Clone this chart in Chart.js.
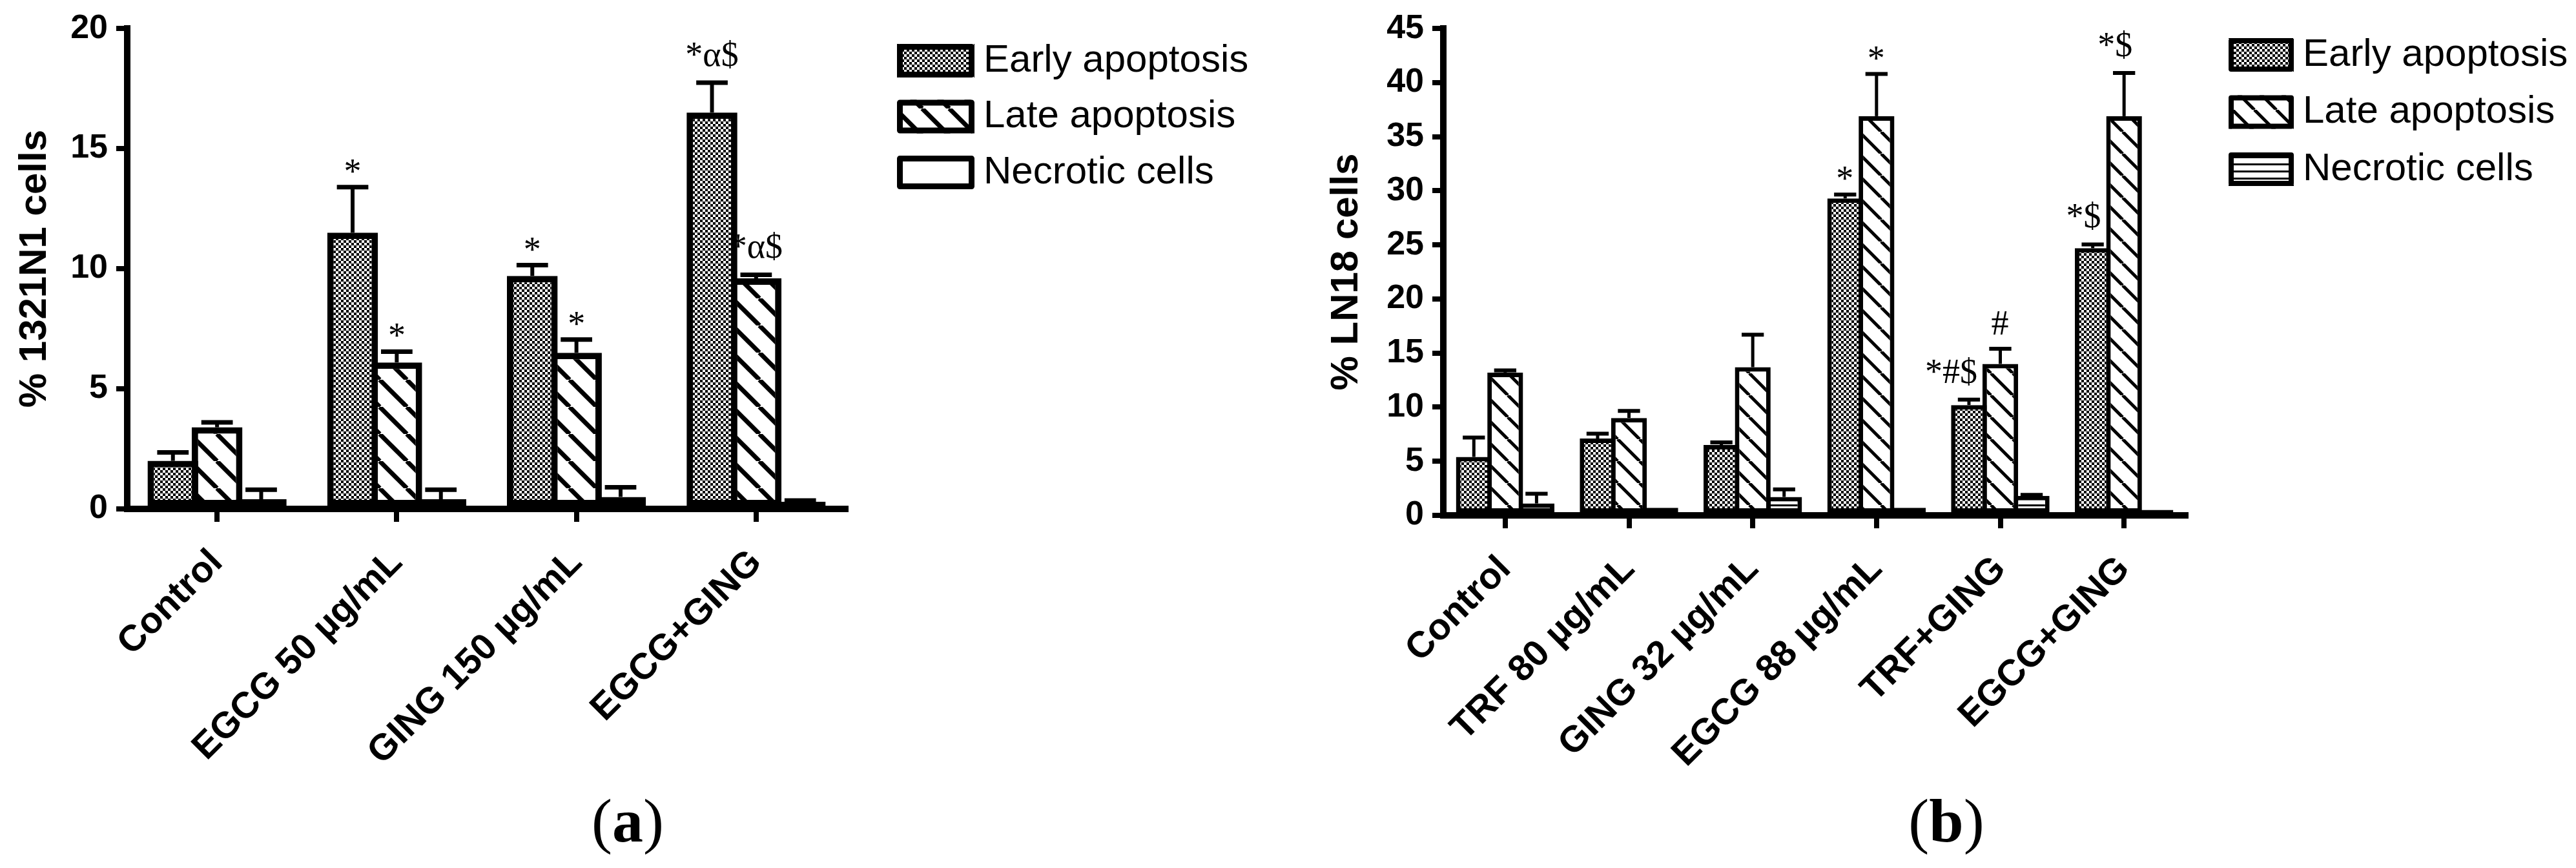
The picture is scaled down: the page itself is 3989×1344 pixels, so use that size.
<!DOCTYPE html>
<html>
<head>
<meta charset="utf-8">
<script src="https://cdn.jsdelivr.net/npm/chart.js@4.4.1/dist/chart.umd.min.js"></script>
<style>
  body { margin: 0; background: #fff; }
  #page { position: relative; width: 3989px; height: 1344px; overflow: hidden; background: #fff; }
  canvas { position: absolute; top: 0; }
  .panel { position: absolute; top: 1223px; width: 400px; text-align: center; font: 96px/96px "Liberation Serif", serif; color: #000; }
</style>
</head>
<body>
<div id="page">
  <canvas id="chartA" width="1995" height="1344" style="left:0"></canvas>
  <canvas id="chartB" width="1994" height="1344" style="left:1995px"></canvas>
  <div class="panel" style="left:772px">(<b>a</b>)</div>
  <div class="panel" style="left:2814px">(<b>b</b>)</div>
</div>
<script>
const seriesNames = ["Early apoptosis", "Late apoptosis", "Necrotic cells"];

// panel (a) - 1321N1 cells
const groupsA = ["Control", "EGCG 50 µg/mL", "GING 150 µg/mL", "EGCG+GING"];
const earlyA = [2.0, 11.5, 9.7, 16.5];
const earlyErrA = [0.35, 1.9, 0.45, 1.25];
const lateA = [3.4, 6.1, 6.5, 9.6];
const lateErrA = [0.2, 0.45, 0.55, 0.15];
const necroticA = [0.4, 0.4, 0.5, 0.3];
const necroticErrA = [0.4, 0.4, 0.4, 0.05];
const earlyMarksA = ["", "*", "*", "*α$"];
const lateMarksA = ["", "*", "*", "*α$"];
const yTicksA = { max: 20, step: 5 };

// panel (b) - LN18 cells
const groupsB = ["Control", "TRF 80 µg/mL", "GING 32 µg/mL", "EGCG 88 µg/mL", "TRF+GING", "EGCG+GING"];
const earlyB = [5.4, 7.1, 6.5, 29.3, 10.2, 24.7];
const earlyErrB = [1.8, 0.45, 0.25, 0.35, 0.5, 0.35];
const lateB = [13.2, 9.0, 13.7, 36.9, 14.0, 36.9];
const lateErrB = [0.2, 0.65, 3.0, 3.9, 1.4, 4.0];
const necroticB = [1.1, 0.7, 1.7, 0.7, 1.8, 0.5];
const necroticErrB = [0.9, 0, 0.7, 0, 0.1, 0];
const earlyMarksB = ["", "", "", "*", "*#$", "*$"];
const lateMarksB = ["", "", "", "*", "#", "*$"];
const yTicksB = { max: 45, step: 5 };

const SANS = "Liberation Sans";

function makePattern(kind, size, lw) {
  const c = document.createElement("canvas");
  c.width = size; c.height = size;
  const g = c.getContext("2d");
  g.fillStyle = "#fff";
  g.fillRect(0, 0, size, size);
  g.fillStyle = "#000";
  g.strokeStyle = "#000";
  g.lineWidth = lw;
  if (kind === "checker") {
    const h = size / 2;
    g.fillRect(0, 0, h, h);
    g.fillRect(h, h, h, h);
  } else if (kind === "diag") {
    for (const o of [-size, 0, size]) {
      g.beginPath(); g.moveTo(o, 0); g.lineTo(o + size, size); g.stroke();
    }
  } else if (kind === "hlines") {
    g.fillRect(0, 0, size, lw);
  }
  return g.createPattern(c, "repeat");
}

// error bars (upper only) and significance marks
function errorBarPlugin(o) {
  return {
    id: "errorBars",
    afterDatasetsDraw(chart) {
      const ctx = chart.ctx;
      const y = chart.scales.y;
      ctx.save();
      ctx.strokeStyle = "#000";
      ctx.fillStyle = "#000";
      chart.data.datasets.forEach((ds, i) => {
        chart.getDatasetMeta(i).data.forEach((bar, j) => {
          const err = ds.errors[j];
          const top = y.getPixelForValue(ds.data[j] + err);
          if (err > 0) {
            const half = bar.width * o.cap / 2;
            ctx.lineWidth = o.stem;
            ctx.beginPath(); ctx.moveTo(bar.x, bar.y); ctx.lineTo(bar.x, top); ctx.stroke();
            ctx.lineWidth = o.capWidth;
            ctx.beginPath(); ctx.moveTo(bar.x - half, top); ctx.lineTo(bar.x + half, top); ctx.stroke();
          }
          const mark = ds.marks ? ds.marks[j] : "";
          if (mark) {
            ctx.font = o.markFont;
            ctx.textBaseline = "alphabetic";
            const m = ctx.measureText(mark);
            const ty = top - o.gap - m.actualBoundingBoxDescent;
            if (o.markRight) {
              ctx.textAlign = "right";
              ctx.fillText(mark, bar.x + o.markRight, ty);
            } else {
              ctx.textAlign = "center";
              ctx.fillText(mark, bar.x, ty);
            }
          }
        });
      });
      ctx.restore();
    }
  };
}

function boxLegendPlugin(o) {
  return {
    id: "boxLegend",
    afterDraw(chart) {
      const ctx = chart.ctx;
      ctx.save();
      chart.data.datasets.forEach((ds, i) => {
        const x = o.x, y = o.y + i * o.step;
        ctx.fillStyle = ds.backgroundColor;
        ctx.fillRect(x, y, o.w, o.h);
        ctx.lineWidth = o.lw;
        ctx.lineJoin = "round";
        ctx.strokeStyle = "#000";
        ctx.strokeRect(x + o.lw / 2, y + o.lw / 2, o.w - o.lw, o.h - o.lw);
        ctx.fillStyle = "#000";
        ctx.font = o.font;
        ctx.textAlign = "left";
        ctx.textBaseline = "middle";
        ctx.fillText(ds.label, x + o.w + o.gap, y + o.h / 2);
      });
      ctx.restore();
    }
  };
}

function buildChart(id, c) {
  const H = 1344;
  const datasets = c.series.map((s, i) => ({
    label: seriesNames[i],
    data: s.data,
    errors: s.errors,
    marks: s.marks,
    backgroundColor: s.fill,
    borderColor: "#000",
    borderWidth: c.barBorder,
    borderSkipped: false,
    categoryPercentage: c.catPct,
    barPercentage: c.barPct
  }));
  return new Chart(document.getElementById(id), {
    type: "bar",
    data: { labels: c.labels, datasets },
    options: {
      responsive: false,
      devicePixelRatio: 1,
      animation: false,
      layout: { padding: { left: 0, top: c.top, right: c.padRight, bottom: 0 } },
      plugins: { legend: { display: false }, tooltip: { enabled: false } },
      scales: {
        x: {
          offset: true,
          border: { color: "#000", width: 10 },
          grid: { drawOnChartArea: false, offset: false, color: "#000", lineWidth: 8, tickLength: 20 },
          ticks: {
            color: "#000", autoSkip: false, maxRotation: 45, minRotation: 45, padding: 30,
            font: { family: SANS, size: 57, weight: "bold" }
          },
          afterFit: s => { s.height = H - c.bottom; }
        },
        y: {
          min: 0, max: c.yTicks.max,
          border: { color: "#000", width: 10 },
          grid: { drawOnChartArea: false, color: "#000", lineWidth: 8, tickLength: 17 },
          ticks: {
            stepSize: c.yTicks.step, color: "#000", padding: 13,
            font: { family: SANS, size: 52, weight: "bold" }
          },
          title: {
            display: true, text: c.yTitle, color: "#000",
            font: { family: SANS, size: 60, weight: "bold" },
            padding: { top: c.titlePad, bottom: 0 }
          },
          afterFit: s => { s.width = c.left; }
        }
      }
    },
    plugins: [errorBarPlugin(c.err), boxLegendPlugin(c.legend)]
  });
}

buildChart("chartA", {
  labels: groupsA,
  yTitle: "% 1321N1 cells",
  yTicks: yTicksA,
  top: 43, bottom: 788, left: 197, padRight: 1995 - 1310,
  titlePad: 18,
  barBorder: 10, catPct: 0.737, barPct: 1.15,
  series: [
    { data: earlyA, errors: earlyErrA, marks: earlyMarksA, fill: makePattern("checker", 8) },
    { data: lateA, errors: lateErrA, marks: lateMarksA, fill: makePattern("diag", 42, 7) },
    { data: necroticA, errors: necroticErrA, marks: null, fill: "#fff" }
  ],
  err: { cap: 0.62, stem: 6, capWidth: 7, gap: 22, markRight: 0, markFont: "54px 'Liberation Serif'" },
  legend: { x: 1389, y: 68, step: 86.5, w: 120, h: 52, lw: 9, gap: 14, font: "60px 'Liberation Sans'" }
});

buildChart("chartB", {
  labels: groupsB,
  yTitle: "% LN18 cells",
  yTicks: yTicksB,
  top: 37, bottom: 798, left: 240, padRight: 1994 - 1390,
  titlePad: 54,
  barBorder: 7, catPct: 0.76, barPct: 1.14,
  series: [
    { data: earlyB, errors: earlyErrB, marks: earlyMarksB, fill: makePattern("checker", 8) },
    { data: lateB, errors: lateErrB, marks: lateMarksB, fill: makePattern("diag", 34, 5) },
    { data: necroticB, errors: necroticErrB, marks: null, fill: makePattern("hlines", 11, 3) }
  ],
  err: { cap: 0.62, stem: 5, capWidth: 6, gap: 22, markRight: 13, markFont: "54px 'Liberation Serif'" },
  legend: { x: 1456, y: 59, step: 88.5, w: 101, h: 52, lw: 8, gap: 14, font: "60px 'Liberation Sans'" }
});
</script>
</body>
</html>
